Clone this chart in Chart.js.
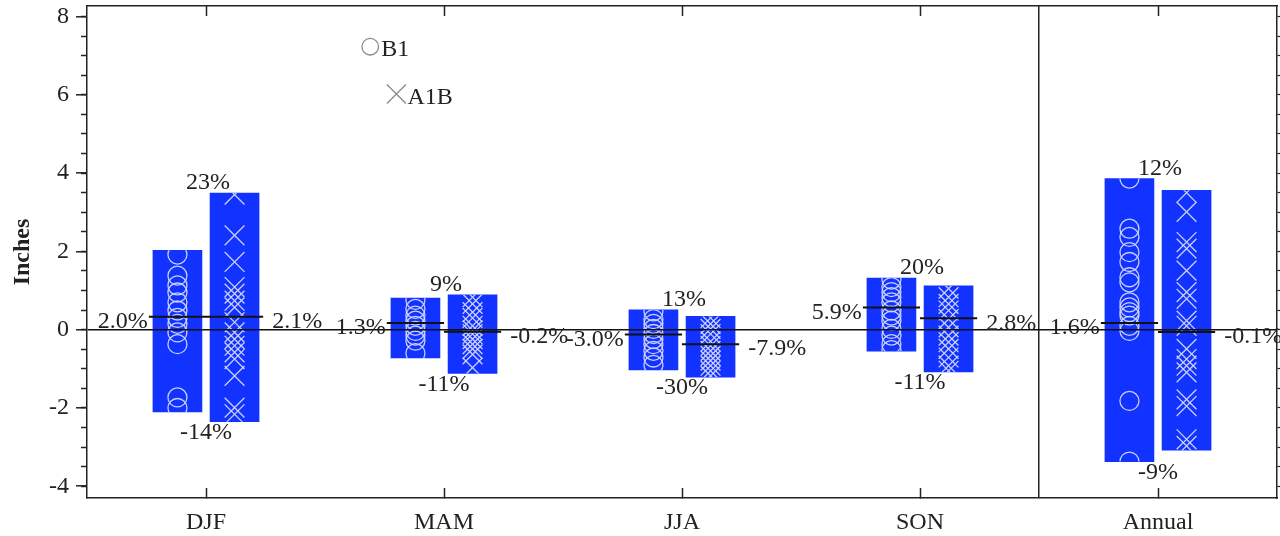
<!DOCTYPE html>
<html>
<head>
<meta charset="utf-8">
<script src="https://cdn.jsdelivr.net/npm/chart.js@4.4.1/dist/chart.umd.min.js"></script>
<style>
  html, body { margin: 0; padding: 0; background: #fff; }
</style>
</head>
<body>
<canvas id="MyChart" width="1280" height="536"></canvas>
<script>
// ---- data (inches) ----
const categories = ['DJF', 'MAM', 'JJA', 'SON', 'Annual'];

const b1Low   = [-2.10, -0.72, -1.03, -0.55, -3.37];
const b1High  = [ 2.03,  0.81,  0.51,  1.32,  3.86];
const a1bLow  = [-2.35, -1.12, -1.21, -1.08, -3.08];
const a1bHigh = [ 3.49,  0.89,  0.34,  1.12,  3.56];

const b1Median  = [0.33,  0.17, -0.12, 0.57,  0.17];
const a1bMedian = [0.33, -0.05, -0.37, 0.29, -0.06];

// one value per model run
const b1Models = [
    [1.92, 1.38, 1.13, 0.95, 0.70, 0.49, 0.30, 0.15, -0.07, -0.37, -1.73, -2.00],
    [0.76, 0.53, 0.36, 0.23, 0.10, -0.03, -0.15, -0.28, -0.60],
    [0.47, 0.27, 0.15, 0.02, -0.11, -0.24, -0.37, -0.54, -0.71, -0.90],
    [1.28, 1.09, 0.96, 0.83, 0.70, 0.49, 0.36, 0.23, 0.02, -0.15, -0.37, -0.52],
    [3.86, 2.58, 2.37, 1.98, 1.73, 1.34, 1.21, 0.70, 0.57, 0.45, 0.36, 0.10, -0.03, -1.82, -3.37]
];
const a1bModels = [
    [3.45, 2.41, 1.73, 1.09, 0.92, 0.74, 0.57, 0.19, -0.07, -0.24, -0.41, -0.58, -0.75, -1.18, -1.99, -2.16],
    [0.83, 0.66, 0.45, 0.30, 0.10, -0.02, -0.11, -0.24, -0.37, -0.49, -0.63, -0.97],
    [0.30, 0.15, 0.02, -0.11, -0.30, -0.41, -0.54, -0.67, -0.79, -0.92, -1.05, -1.18],
    [1.05, 0.83, 0.66, 0.49, 0.27, 0.06, -0.15, -0.32, -0.49, -0.71, -0.92, -1.05],
    [3.50, 3.01, 2.24, 2.07, 1.51, 0.96, 0.79, 0.23, 0.10, -0.49, -0.75, -0.92, -1.09, -1.78, -1.95, -2.80, -2.97]
];

const b1Pct  = ['2.0%', '1.3%', '-3.0%', '5.9%', '1.6%'];
const a1bPct = ['2.1%', '-0.2%', '-7.9%', '2.8%', '-0.1%'];
const maxPct = ['23%', '9%', '13%', '20%', '12%'];
const minPct = ['-14%', '-11%', '-30%', '-11%', '-9%'];

const yMajorTicks = [-4, -2, 0, 2, 4, 6, 8];
const yMinorTicks = [-4, -3.5, -3, -2.5, -2, -1.5, -1, -0.5, 0, 0.5, 1, 1.5, 2, 2.5, 3, 3.5, 4, 4.5, 5, 5.5, 6, 6.5, 7, 7.5, 8];

const legendNames = ['B1', 'A1B'];
const legendX = [0.69, 0.80];   // in category units
const legendY = [7.23, 6.02];   // in inches

// ---- look ----
const Y_MIN = -4.3, Y_MAX = 8.27;
const SHIFT = 0.12;             // bar centre offset from the category centre, category units
const BAR_W = 49;
const BAR_BLUE = '#1233ff';
const MARK = 'rgba(210,215,255,0.95)';
const INK = '#222';
const MED_HALF = 28.6;

Chart.defaults.font.family = "'Liberation Serif', 'Times New Roman', serif";
Chart.defaults.font.size = 24;
Chart.defaults.color = INK;

function points(models, shift) {
    const pts = [];
    models.forEach((vals, i) => vals.forEach(v => pts.push({x: i + shift, y: v})));
    return pts;
}

function noPad(s) {
    s.paddingTop = 0; s.paddingBottom = 0; s.paddingLeft = 0; s.paddingRight = 0;
}

// model markers only show inside their own bar
const clipToBars = {
    id: 'clipToBars',
    beforeDatasetDraw(chart, args) {
        const ds = chart.data.datasets[args.index];
        if (ds.clipTo === undefined) return;
        const ctx = chart.ctx;
        ctx.save();
        ctx.beginPath();
        chart.getDatasetMeta(ds.clipTo).data.forEach(bar => {
            const p = bar.getProps(['x', 'y', 'base', 'width'], true);
            ctx.rect(p.x - p.width / 2, Math.min(p.y, p.base), p.width, Math.abs(p.base - p.y));
        });
        ctx.clip();
    },
    afterDatasetDraw(chart, args) {
        if (chart.data.datasets[args.index].clipTo !== undefined) chart.ctx.restore();
    }
};

const textLayer = {
    id: 'textLayer',
    afterDraw(chart) {
        const ctx = chart.ctx;
        const xs = chart.scales.x, ys = chart.scales.y, xn = chart.scales.xNum;
        ctx.save();
        ctx.font = "24px 'Liberation Serif', serif";
        ctx.fillStyle = INK;
        ctx.textBaseline = 'middle';

        chart.getDatasetMeta(4).data.forEach((pt, i) => {
            ctx.textAlign = 'right';
            ctx.fillText(b1Pct[i], pt.x - MED_HALF - 1, pt.y + 5);
        });
        chart.getDatasetMeta(5).data.forEach((pt, i) => {
            ctx.textAlign = 'left';
            ctx.fillText(a1bPct[i], pt.x + MED_HALF + 9, pt.y + 5);
        });

        ctx.textAlign = 'center';
        categories.forEach((c, i) => {
            const cx = xs.getPixelForValue(i);
            const top = ys.getPixelForValue(Math.max(b1High[i], a1bHigh[i]));
            const bot = ys.getPixelForValue(Math.min(b1Low[i], a1bLow[i]));
            ctx.fillText(maxPct[i], cx + 2, top - 10);
            ctx.fillText(minPct[i], cx, bot + 11);
        });

        // legend
        ctx.strokeStyle = '#8a8a8a';
        ctx.lineWidth = 1.3;
        ctx.textAlign = 'left';
        let px = xn.getPixelForValue(legendX[0]), py = ys.getPixelForValue(legendY[0]);
        ctx.beginPath();
        ctx.arc(px, py, 8.3, 0, Math.PI * 2);
        ctx.stroke();
        ctx.fillText(legendNames[0], px + 11, py + 3);
        px = xn.getPixelForValue(legendX[1]);
        py = ys.getPixelForValue(legendY[1]);
        ctx.beginPath();
        ctx.moveTo(px - 9.5, py - 9.5); ctx.lineTo(px + 9.5, py + 9.5);
        ctx.moveTo(px + 9.5, py - 9.5); ctx.lineTo(px - 9.5, py + 9.5);
        ctx.stroke();
        ctx.fillText(legendNames[1], px + 11, py + 4);
        ctx.restore();
    }
};

const config = {
    type: 'bar',
    data: {
        labels: categories,
        datasets: [
            {
                type: 'bar', label: 'B1',
                data: b1Low.map((lo, i) => ({x: i - SHIFT, y: [lo, b1High[i]]})),
                backgroundColor: BAR_BLUE, borderWidth: 0, borderSkipped: false,
                grouped: false, barThickness: BAR_W,
                xAxisID: 'xNum', yAxisID: 'y', order: 3
            },
            {
                type: 'bar', label: 'A1B',
                data: a1bLow.map((lo, i) => ({x: i + SHIFT, y: [lo, a1bHigh[i]]})),
                backgroundColor: BAR_BLUE, borderWidth: 0, borderSkipped: false,
                grouped: false, barThickness: BAR_W,
                xAxisID: 'xNum', yAxisID: 'y', order: 3
            },
            {
                type: 'scatter', label: 'B1 models',
                data: points(b1Models, -SHIFT),
                pointStyle: 'circle', pointRadius: 9.5,
                pointBorderColor: MARK, pointBackgroundColor: 'rgba(0,0,0,0)', pointBorderWidth: 1.3,
                xAxisID: 'xNum', yAxisID: 'y', clipTo: 0, order: 2
            },
            {
                type: 'scatter', label: 'A1B models',
                data: points(a1bModels, SHIFT),
                pointStyle: 'crossRot', pointRadius: 14,
                pointBorderColor: MARK, pointBackgroundColor: 'rgba(0,0,0,0)', pointBorderWidth: 1.3,
                xAxisID: 'xNum', yAxisID: 'y', clipTo: 1, order: 2
            },
            {
                type: 'scatter', label: 'B1 median',
                data: b1Median.map((v, i) => ({x: i - SHIFT, y: v})),
                pointStyle: 'line', pointRadius: MED_HALF,
                pointBorderColor: '#111', pointBorderWidth: 2,
                xAxisID: 'xNum', yAxisID: 'y', order: 1
            },
            {
                type: 'scatter', label: 'A1B median',
                data: a1bMedian.map((v, i) => ({x: i + SHIFT, y: v})),
                pointStyle: 'line', pointRadius: MED_HALF,
                pointBorderColor: '#111', pointBorderWidth: 2,
                xAxisID: 'xNum', yAxisID: 'y', order: 1
            }
        ]
    },
    options: {
        responsive: false,
        animation: false,
        layout: { autoPadding: false, padding: { top: 6, right: 0, bottom: 0, left: 0 } },
        plugins: { legend: { display: false }, tooltip: { enabled: false } },
        scales: {
            x: {
                type: 'category', position: 'bottom', offset: true,
                afterFit: s => { s.height = 38; noPad(s); },
                grid: { offset: false, drawOnChartArea: false, tickLength: -10, tickColor: INK, tickWidth: 1.5 },
                border: { display: true, color: INK, width: 1.5 },
                ticks: { padding: 20, color: INK, font: { size: 24 }, autoSkip: false, maxRotation: 0 }
            },
            xTop: {
                type: 'category', position: 'top', offset: true,
                afterFit: s => { s.height = 0; noPad(s); },
                grid: { offset: false, drawOnChartArea: false, tickLength: -10, tickColor: INK, tickWidth: 1.5 },
                border: { display: true, color: INK, width: 1.5 },
                ticks: { display: false }
            },
            xSep: {
                type: 'category', position: 'bottom', offset: true,
                afterFit: s => { s.height = 0; noPad(s); },
                grid: {
                    offset: true, drawTicks: false, lineWidth: 1.5,
                    color: c => c.index === 4 ? INK : 'rgba(0,0,0,0)'
                },
                border: { display: false },
                ticks: { display: false }
            },
            xNum: {
                type: 'linear', display: false, offset: false, min: -0.5, max: 4.5,
                afterFit: noPad
            },
            y: {
                type: 'linear', position: 'left', weight: 1,
                min: Y_MIN, max: Y_MAX,
                afterBuildTicks: s => { s.ticks = yMajorTicks.map(v => ({value: v})); },
                afterFit: s => { s.width = 87; noPad(s); },
                ticks: { padding: 7, color: INK, font: { size: 24 } },
                grid: {
                    z: 1, drawOnChartArea: true, lineWidth: 1.6,
                    color: c => (c.tick && c.tick.value === 0) ? '#111' : 'rgba(0,0,0,0)',
                    tickColor: INK, tickLength: 11, tickWidth: 1.5
                },
                border: { display: true, color: INK, width: 1.5, z: 1 },
                title: {
                    display: true, text: 'Inches', color: INK,
                    font: { size: 24, weight: 'bold' }, padding: { top: 8, bottom: 0 }
                }
            },
            yMinor: {
                type: 'linear', position: 'left', weight: 0,
                min: Y_MIN, max: Y_MAX,
                afterBuildTicks: s => { s.ticks = yMinorTicks.map(v => ({value: v})); },
                afterFit: s => { s.width = 0; noPad(s); },
                ticks: { display: false, autoSkip: false },
                grid: { drawOnChartArea: false, tickLength: 6, tickColor: INK, tickWidth: 1.5 },
                border: { display: false }
            },
            yRight: {
                type: 'linear', position: 'right',
                min: Y_MIN, max: Y_MAX,
                afterBuildTicks: s => { s.ticks = yMinorTicks.map(v => ({value: v})); },
                afterFit: s => { s.width = 3; noPad(s); },
                ticks: { display: false, autoSkip: false },
                grid: { drawOnChartArea: false, tickLength: 3, tickColor: INK, tickWidth: 1.2 },
                border: { display: true, color: INK, width: 1.5 }
            }
        }
    },
    plugins: [clipToBars, textLayer]
};

const myChart = new Chart(document.getElementById('MyChart'), config);
</script>
</body>
</html>
